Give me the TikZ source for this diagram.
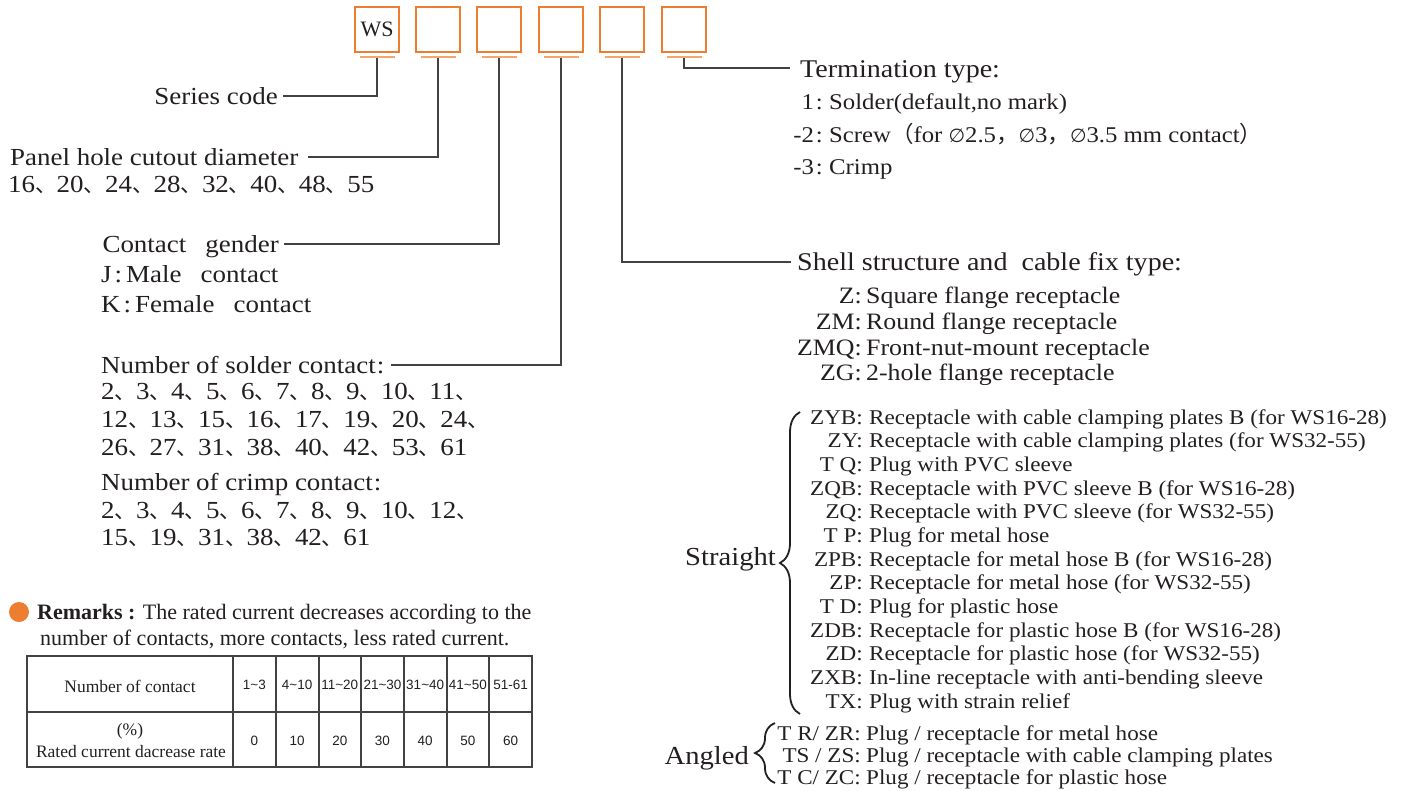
\documentclass[tikz,border=0pt]{standalone}
\usepackage{fontspec}
\setmainfont{Liberation Serif}
\newfontfamily\wide{Liberation Serif}[FakeStretch=1.1]
\newfontfamily\cjk{Noto Sans CJK SC}
\newfontfamily\sansf{Liberation Sans}
\newfontfamily\symf{DejaVu Sans}
\usetikzlibrary{decorations.pathreplacing}
\definecolor{org}{HTML}{ED7D31}
\definecolor{orgl}{HTML}{F4A66E}
\definecolor{ink}{HTML}{231F20}
\newcommand\dunh{{\cjk\fontsize{21.5}{21.5}\selectfont 、}}
\newcommand\diam{{\symf\fontsize{19}{19}\selectfont ∅}}
\newcommand\gap{\hspace{0.78em}}
\begin{document}
\begin{tikzpicture}[x=1pt,y=-1pt,
  lbl/.style={font=\wide\fontsize{24.5}{29}\selectfont, inner sep=0pt, text=ink},
  opt/.style={font=\wide\fontsize{22.5}{26}\selectfont, inner sep=0pt, text=ink},
  shopt/.style={font=\wide\fontsize{23.5}{26}\selectfont, inner sep=0pt, text=ink},
  lst/.style={font=\wide\fontsize{21}{24}\selectfont, inner sep=0pt, text=ink},
  hdr/.style={font=\wide\fontsize{25.5}{30}\selectfont, inner sep=0pt, text=ink},
  grp/.style={font=\wide\fontsize{26}{30}\selectfont, inner sep=0pt, text=ink},
  rem/.style={font=\fontsize{22}{26}\selectfont, inner sep=0pt, text=ink},
  tbl/.style={font=\fontsize{17.5}{20}\selectfont, inner sep=0pt, text=ink},
  tnum/.style={font=\sansf\fontsize{13.5}{16}\selectfont, inner sep=0pt, text=ink},
  codebox/.style={draw=org, line width=1.6pt, minimum width=44pt, minimum height=45pt, inner sep=0pt},
  bar/.style={draw=orgl, line width=2.2pt},
  conn/.style={draw=ink!85, line width=1.3pt},
  gridln/.style={draw=ink!85, line width=1.4pt},
  brc/.style={draw=ink, line width=1.8pt, decorate, decoration={brace, amplitude=#1}}
]
\useasboundingbox (0,0) rectangle (1407,790);

% code boxes
\foreach \i/\x in {1/377,2/438,3/499,4/561,5/622,6/684} {
  \node[codebox] (box\i) at (\x,29.5) {};
  \draw[bar] (\x-17.5,57) -- (\x+17.5,57);
  \coordinate (b\i) at (\x,58);
}
\node[font=\fontsize{22}{22}\selectfont, text=ink, inner sep=0pt] (ws) at (box1.center) {WS};

% left labels
\node[lbl, anchor=base east] (series) at (278,104) {Series code};
\node[lbl, anchor=base west] (panel) at (10,165) {Panel hole cutout diameter};
\node[lbl, anchor=base west] (dia) at (8,192) {16\dunh 20\dunh 24\dunh 28\dunh 32\dunh 40\dunh 48\dunh 55};
\node[lbl, anchor=base east] (gender) at (279,252) {Contact\gap gender};
\node[lbl, anchor=base west] (male) at (101,282) {J\kern3pt:\kern4pt Male\gap contact};
\node[lbl, anchor=base west] (female) at (101,312) {K\kern3pt:\kern4pt Female\gap contact};
\node[lbl, anchor=base west] (solder) at (101,373) {Number of solder contact\kern1pt:};
\node[lbl, anchor=base west] (s1) at (101,399) {2\dunh 3\dunh 4\dunh 5\dunh 6\dunh 7\dunh 8\dunh 9\dunh 10\dunh 11\dunh};
\node[lbl, anchor=base west] (s2) at (101,427) {12\dunh 13\dunh 15\dunh 16\dunh 17\dunh 19\dunh 20\dunh 24\dunh};
\node[lbl, anchor=base west] (s3) at (101,455) {26\dunh 27\dunh 31\dunh 38\dunh 40\dunh 42\dunh 53\dunh 61};
\node[lbl, anchor=base west] (crimp) at (101,490) {Number of crimp contact\kern1pt:};
\node[lbl, anchor=base west] (c1) at (101,518) {2\dunh 3\dunh 4\dunh 5\dunh 6\dunh 7\dunh 8\dunh 9\dunh 10\dunh 12\dunh};
\node[lbl, anchor=base west] (c2) at (101,545) {15\dunh 19\dunh 31\dunh 38\dunh 42\dunh 61};

% right: termination
\node[hdr, anchor=base west] (term) at (800,77) {Termination type:};
\node[opt, anchor=base east] (t1c) at (823,109) {1\kern2pt:};
\node[opt, anchor=base west] (t1) at (829,109) {Solder(default,no mark)};
\node[opt, anchor=base east] (t2c) at (823,142) {-2\kern2pt:};
\node[opt, anchor=base west] (t2) at (829,142) {Screw{\cjk （}for \diam2.5{\cjk ，}\diam3{\cjk ，}\diam3.5 mm contact{\cjk ）}};
\node[opt, anchor=base east] (t3c) at (823,174) {-3\kern2pt:};
\node[opt, anchor=base west] (t3) at (829,174) {Crimp};

% right: shell
\node[hdr, anchor=base west] (shell) at (797,270) {Shell structure and\ \ cable fix type:};
\foreach \c/\d/\y [count=\n] in {Z:/Square flange receptacle/303, ZM:/Round flange receptacle/329, ZMQ:/Front-nut-mount receptacle/355, ZG:/2-hole flange receptacle/380}{
  \node[shopt, anchor=base east] (zc\n) at (862,\y) {\c};
  \node[shopt, anchor=base west] (zd\n) at (866,\y) {\d};
}

% straight list
\foreach \c/\d [count=\n] in {
  ZYB:/{Receptacle with cable clamping plates B (for WS16-28)},
  ZY:/{Receptacle with cable clamping plates (for WS32-55)},
  T Q:/{Plug with PVC sleeve},
  ZQB:/{Receptacle with PVC sleeve B (for WS16-28)},
  ZQ:/{Receptacle with PVC sleeve (for WS32-55)},
  T P:/{Plug for metal hose},
  ZPB:/{Receptacle for metal hose B (for WS16-28)},
  ZP:/{Receptacle for metal hose (for WS32-55)},
  T D:/{Plug for plastic hose},
  ZDB:/{Receptacle for plastic hose B (for WS16-28)},
  ZD:/{Receptacle for plastic hose (for WS32-55)},
  ZXB:/{In-line receptacle with anti-bending sleeve},
  TX:/{Plug with strain relief}}{
  \node[lst, anchor=base east] (sc\n) at (863,{424+23.67*(\n-1)}) {\c};
  \node[lst, anchor=base west] (sd\n) at (869,{424+23.67*(\n-1)}) {\d};
}
\node[grp, anchor=base east] (straight) at (776,565) {Straight};
\draw[brc=20] (800,714) -- (800,412);

% angled list
\node[lst, anchor=base east] (ac1) at (861,740) {T R/ ZR:};
\node[lst, anchor=base west] (ad1) at (866,740) {Plug / receptacle for metal hose};
\node[lst, anchor=base east] (ac2) at (861,762) {TS / ZS:};
\node[lst, anchor=base west] (ad2) at (866,762) {Plug / receptacle with cable clamping plates};
\node[lst, anchor=base east] (ac3) at (861,784) {T C/ ZC:};
\node[lst, anchor=base west] (ad3) at (866,784) {Plug / receptacle for plastic hose};
\node[grp, anchor=base east] (angled) at (749,764) {Angled};
\draw[brc=20] (775,783) -- (775,723);

% connectors
\draw[conn] (b1) |- ([shift={(5,-8)}]series.base east);
\draw[conn] (b2) |- ([shift={(9,-8)}]panel.base east);
\draw[conn] (b3) |- ([shift={(5,-8)}]gender.base east);
\draw[conn] (b4) |- ([shift={(6,-8)}]solder.base east);
\draw[conn] (b5) |- ([shift={(-6,-8)}]shell.base west);
\draw[conn] (b6) |- ([shift={(-10,-9)}]term.base west);

% remarks
\fill[org] (19,612) circle (10);
\node[rem, anchor=base west] (rem1) at (37,619) {\textbf{Remarks :} The rated current decreases according to the};
\node[rem, anchor=base west] (rem2) at (40,645) {number of contacts, more contacts, less rated current.};

% table
\draw[gridln] (27,656) rectangle (532,767);
\draw[gridln] (27,712) -- (532,712);
\foreach \x in {233,276,319,361,404,447,489} \draw[gridln] (\x,656) -- (\x,767);
\node[tbl] (th) at (130,686) {Number of contact};
\node[tbl] (tp) at (130,731) {(\%)};
\node[tbl] (tr) at (131,752) {Rated current dacrease rate};
\foreach \h/\v [count=\k] in {1\textasciitilde 3/0, 4\textasciitilde 10/10, 11\textasciitilde 20/20, 21\textasciitilde 30/30, 31\textasciitilde 40/40, 41\textasciitilde 50/50, 51-61/60}{
  \node[tnum] (h\k) at ({233+42.71*(\k-0.5)},685) {\h};
  \node[tnum] (v\k) at ({233+42.71*(\k-0.5)},741) {\v};
}
\end{tikzpicture}
\end{document}
